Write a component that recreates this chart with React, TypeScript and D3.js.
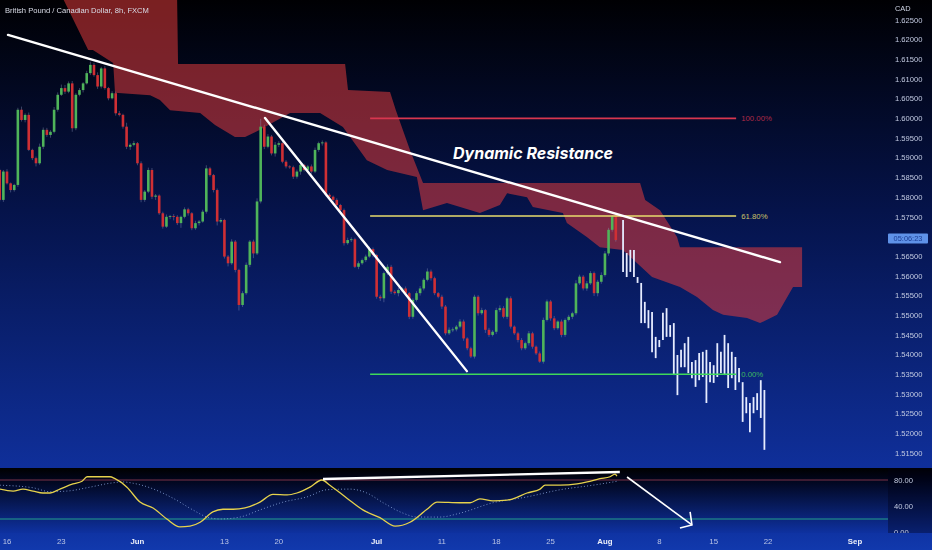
import React from 'react';
import * as d3 from 'd3';

const W = 932;
const H = 550;

// ---------- data ----------
const title = 'British Pound / Canadian Dollar, 8h, FXCM';
const currency = 'CAD';
const countdown = '05:06:23';

const firstOpen = 1.5869;
const closes = [
  1.5793, 1.5865, 1.5835, 1.5818, 1.5831, 1.6022, 1.5996, 1.6009, 1.5920, 1.5899,
  1.5886, 1.5928, 1.5971, 1.5958, 1.5966, 1.6022, 1.6060, 1.6077, 1.6068, 1.6089,
  1.5975, 1.6060, 1.6072, 1.6089, 1.6115, 1.6136, 1.6110, 1.6081, 1.6127, 1.6077,
  1.6051, 1.6064, 1.6013, 1.6009, 1.5979, 1.5928, 1.5933, 1.5937, 1.5886, 1.5793,
  1.5814, 1.5869, 1.5801, 1.5804, 1.5759, 1.5725, 1.5750, 1.5752, 1.5750, 1.5734,
  1.5750, 1.5769, 1.5759, 1.5721, 1.5734, 1.5738, 1.5763, 1.5873, 1.5856, 1.5818,
  1.5738, 1.5742, 1.5649, 1.5632, 1.5687, 1.5615, 1.5526, 1.5556, 1.5628, 1.5687,
  1.5657, 1.5789, 1.5979, 1.5928, 1.5954, 1.5911, 1.5933, 1.5937, 1.5890, 1.5878,
  1.5876, 1.5852, 1.5865,
  1.5882, 1.5869, 1.5878, 1.5865, 1.5920, 1.5937, 1.5939, 1.5806, 1.5801, 1.5793,
  1.5780, 1.5767, 1.5683, 1.5691, 1.5693, 1.5623, 1.5632, 1.5640, 1.5649, 1.5668,
  1.5653, 1.5547, 1.5543, 1.5607, 1.5623, 1.5560, 1.5556, 1.5564, 1.5568, 1.5556,
  1.5496, 1.5539, 1.5556, 1.5568, 1.5590, 1.5611, 1.5594, 1.5556, 1.5547, 1.5522,
  1.5454, 1.5463, 1.5464, 1.5471, 1.5484, 1.5441, 1.5416, 1.5395, 1.5547, 1.5505,
  1.5513, 1.5463, 1.5450, 1.5458, 1.5513, 1.5518, 1.5496, 1.5543, 1.5471, 1.5454,
  1.5437, 1.5416, 1.5429, 1.5454, 1.5420, 1.5403, 1.5382, 1.5488, 1.5535, 1.5492,
  1.5467, 1.5484, 1.5450, 1.5488, 1.5496, 1.5505, 1.5581, 1.5598, 1.5568, 1.5581,
  1.5607, 1.5556, 1.5585, 1.5602, 1.5657, 1.5717, 1.5751, 1.5691,
];
// wick lengths in pips above / below the body
const wickUpPips = [
  3, 4, 6, 2, 3, 5, 8, 4, 6, 3, 4, 8, 6, 5, 4, 7, 6, 9, 8, 5,
  6, 4, 5, 3, 6, 8, 5, 7, 4, 6, 3, 5, 4, 6, 3, 10, 4, 6, 3, 5,
  4, 6, 5, 4, 3, 4, 6, 3, 5, 4, 3, 5, 4, 3, 6, 4, 5, 8, 4, 3,
  4, 5, 3, 4, 6, 4, 3, 5, 6, 4, 5, 8, 20, 5, 6, 4, 7, 5, 6, 4,
  3, 4, 5, 4, 3, 4, 5, 6, 4, 5, 3, 4, 3, 4, 3, 4, 6, 5, 4, 5,
  4, 5, 6, 4, 3, 5, 4, 6, 5, 4, 6, 4, 5, 3, 4, 5, 6, 4, 8, 5,
  4, 3, 5, 4, 6, 5, 4, 6, 5, 3, 4, 5, 4, 6, 3, 5, 4, 6, 7, 5,
  4, 5, 3, 4, 5, 4, 6, 4, 3, 5, 6, 5, 4, 6, 3, 5, 4, 5, 4, 8,
  5, 4, 6, 5, 4, 5, 7, 6, 5, 4, 3,
];
const wickDownPips = [
  4, 5, 3, 6, 4, 5, 4, 6, 3, 5, 8, 4, 6, 5, 7, 4, 5, 3, 6, 4,
  9, 5, 4, 6, 3, 5, 4, 6, 5, 4, 5, 3, 6, 4, 5, 6, 8, 4, 5, 6,
  5, 4, 6, 8, 4, 5, 3, 6, 9, 5, 12, 4, 6, 5, 4, 6, 3, 5, 4, 6,
  10, 4, 5, 8, 4, 6, 14, 5, 4, 6, 12, 4, 5, 6, 4, 5, 8, 6, 4, 5,
  4, 6, 5, 8, 4, 5, 6, 4, 5, 6, 4, 5, 6, 4, 5, 6, 4, 5, 3, 6,
  4, 5, 3, 6, 5, 7, 10, 5, 6, 4, 8, 5, 4, 6, 5, 4, 6, 5, 4, 6,
  5, 4, 6, 5, 4, 6, 5, 4, 6, 5, 4, 5, 6, 4, 8, 5, 4, 6, 5, 4,
  6, 5, 4, 6, 5, 4, 6, 5, 4, 3, 5, 4, 6, 5, 4, 6, 5, 4, 6, 5,
  4, 5, 6, 4, 7, 8, 5, 4, 6, 5, 4,
];

// projected (hand drawn) bar pattern
const projStartBar = 172;
const projHigh = [
  1.5742, 1.5658, 1.5666, 1.5666, 1.5597, 1.5582, 1.5534, 1.5513, 1.5508, 1.5445,
  1.5437, 1.5506, 1.5518, 1.5475, 1.5480, 1.5399, 1.5412, 1.5429, 1.5445, 1.5381,
  1.5386, 1.5404, 1.5407, 1.5412, 1.5381, 1.5373, 1.5429, 1.5407, 1.5450, 1.5429,
  1.5407, 1.5394, 1.5366, 1.5330, 1.5292, 1.5277, 1.5292, 1.5302, 1.5335, 1.5310,
];
const projLow = [
  1.5610, 1.5597, 1.5610, 1.5597, 1.5582, 1.5480, 1.5480, 1.5467, 1.5406, 1.5391,
  1.5419, 1.5437, 1.5445, 1.5445, 1.5348, 1.5297, 1.5368, 1.5368, 1.5353, 1.5340,
  1.5318, 1.5335, 1.5343, 1.5277, 1.5330, 1.5328, 1.5343, 1.5353, 1.5348, 1.5315,
  1.5340, 1.5310, 1.5330, 1.5229, 1.5251, 1.5203, 1.5251, 1.5259, 1.5239, 1.5158,
];

// ichimoku cloud edges [bar, price]
const cloudUpper: [number, number][] = [
  [16.1, 1.633], [48.9, 1.633], [49.2, 1.6138], [95.3, 1.6138], [96.1, 1.6072],
  [107.7, 1.6067], [109.3, 1.6021], [113.2, 1.5920], [116.8, 1.5836], [176.7, 1.5836],
  [178.1, 1.5793], [182.2, 1.5767], [186.9, 1.5699], [187.7, 1.5673], [221.4, 1.5673],
];
const cloudLower: [number, number][] = [
  [16.1, 1.633], [24.4, 1.6174], [25.7, 1.6174], [31.3, 1.6141], [31.8, 1.6065],
  [41.5, 1.6059], [44.2, 1.6047], [47.0, 1.6021], [55.3, 1.6014], [59.4, 1.5983],
  [64.9, 1.5953], [67.7, 1.5953], [71.8, 1.5971], [80.1, 1.6014], [88.4, 1.6014],
  [94.7, 1.5978], [101.3, 1.5894], [106.9, 1.5869], [115.1, 1.5851], [116.8, 1.5767],
  [123.4, 1.5785], [132.5, 1.5760], [138.0, 1.5780], [140.0, 1.5810], [145.5, 1.5800],
  [147.1, 1.5775], [155.4, 1.5760], [156.5, 1.5734], [162.0, 1.5699], [165.6, 1.5673],
  [171.9, 1.5666], [180.0, 1.5597], [187.7, 1.5572], [192.4, 1.5546], [196.8, 1.5513],
  [199.6, 1.5501], [206.2, 1.5493], [209.8, 1.5480], [214.5, 1.5501], [218.9, 1.5572],
  [221.4, 1.5572],
];

// fibonacci retracement
const fibPrices = [1.6000, 1.5752, 1.5350];
const fibLabels = ['100.00%', '61.80%', '0.00%'];
const fibBars = [102.2, 203.2];

// trend lines [bar, price]
const trendLong: [number, number][] = [[2.28, 1.6212], [215.3, 1.5635]];
const trendSteep: [number, number][] = [[73.2, 1.6001], [128.9, 1.5358]];
const annotation = 'Dynamic Resistance';

// stochastic RSI [bar, value]
const stochK: [number, number][] = [
  [0, 66], [3.7, 63], [6.4, 66], [9.2, 63], [11.9, 60], [13.9, 60], [16.6, 66], [20.2, 74],
  [22.7, 78], [24.1, 85], [27.7, 85], [30.4, 85], [31.8, 82], [35.1, 69], [38.7, 46], [42.3, 37],
  [46.1, 20], [49.7, 8], [52.5, 9], [55.3, 15], [58.8, 31], [61.6, 35], [64.4, 35], [67.7, 37],
  [71.8, 46], [75.4, 58], [79.3, 57], [82.0, 60], [85.6, 69], [88.9, 80], [91.1, 72], [95.8, 52],
  [100.2, 34], [104.9, 22], [109.1, 9], [113.2, 15], [117.9, 35], [120.7, 46], [127.0, 45],
  [129.8, 45], [132.5, 51], [136.1, 48], [140.0, 49], [141.6, 51], [145.5, 60], [149.1, 66],
  [150.5, 72], [154.6, 72], [159.3, 74], [162.1, 77], [165.6, 82], [168.4, 85], [169.8, 89],
  [170.3, 86],
];
const stochD: [number, number][] = [
  [0, 72], [9.2, 68], [13.9, 62], [18.6, 63], [24.9, 69], [30.4, 75], [34.0, 77], [36.8, 75],
  [41.5, 68], [47.8, 52], [53.3, 34], [57.2, 23], [60.8, 20], [66.3, 23], [71.8, 34], [78.2, 46],
  [84.8, 54], [90.3, 65], [96.6, 66], [101.3, 60], [105.8, 45], [111.3, 29], [115.1, 23],
  [121.5, 23], [127.0, 29], [136.1, 45], [145.5, 54], [154.6, 65], [163.7, 72], [170.3, 78],
];
const oscUpper = 80;
const oscLower = 20;
const oscTrend: [number, number][] = [[89.2, 81.5], [171.1, 92.3]];
const oscArrow: [number, number][] = [[173.1, 84.6], [191.0, 10.8]];
const oscArrowHead: [number, number][] = [[187.7, 6.2], [191.0, 10.8], [190.5, 30.8]];

// axes
const priceTicks = d3.range(0, 23).map((i) => +(1.515 + i * 0.005).toFixed(3));
const oscTicks = [0, 40, 80];
const timeTickLabels = ['16', '23', 'Jun', '13', '20', 'Jul', '11', '18', '25', 'Aug', '8', '15', '22', 'Sep'];
const timeTickBars = [2, 17, 38, 62, 77, 104, 122, 137, 152, 167, 182, 197, 212, 236];

// ---------- layout ----------
const priceBottom = 467;
const oscTop = 468;
const oscBottom = 533;
const axisX = 885;

const x = d3.scaleLinear().domain([0, 236]).range([-0.25, 855]);
const yP = d3.scaleLinear().domain([1.515, 1.625]).range([453, 20]);
const yO = d3.scaleLinear().domain([0, 80]).range([532, 480]);

const FONT = '"Liberation Sans", Arial, sans-serif';

export default function App() {
  const lineP = d3.line<[number, number]>().x((d) => x(d[0])).y((d) => yP(d[1]));
  const lineO = d3.line<[number, number]>().x((d) => x(d[0])).y((d) => yO(d[1]));
  const smoothO = d3
    .line<[number, number]>()
    .x((d) => x(d[0]))
    .y((d) => yO(d[1]))
    .curve(d3.curveMonotoneX);

  const cloudPts = [...cloudUpper, ...cloudLower.slice().reverse()];
  const cloudPath = (lineP(cloudPts) || '') + 'Z';

  const candles = closes.map((c, i) => {
    const o = i === 0 ? firstOpen : closes[i - 1];
    const hi = Math.max(o, c) + wickUpPips[i] * 0.0001;
    const lo = Math.min(o, c) - wickDownPips[i] * 0.0001;
    return { i, o, c, hi, lo, up: c >= o };
  });

  const lastClose = closes[closes.length - 1];
  const fibColors = ['#d8364f', '#e8dc6c', '#3fd85a'];
  const fibTextColors = ['#b02a48', '#c9c26a', '#3fb862'];

  return (
    <svg
      width={W}
      height={H}
      style={{ position: 'fixed', left: 0, top: 0, display: 'block' }}
      fontFamily={FONT}
    >
      <defs>
        <linearGradient id="bgP" x1="0" y1="0" x2="0" y2="1">
          <stop offset="0" stopColor="#000003" />
          <stop offset="0.45" stopColor="#05134a" />
          <stop offset="1" stopColor="#0f2f9a" />
        </linearGradient>
        <linearGradient id="bgO" x1="0" y1="0" x2="0" y2="1">
          <stop offset="0" stopColor="#000000" />
          <stop offset="0.2" stopColor="#01061e" />
          <stop offset="1" stopColor="#0e31a0" />
        </linearGradient>
        <linearGradient id="bgX" x1="0" y1="0" x2="0" y2="1">
          <stop offset="0" stopColor="#0f33a3" />
          <stop offset="1" stopColor="#1139ad" />
        </linearGradient>
        <clipPath id="clipP">
          <rect x={0} y={0} width={axisX} height={priceBottom} />
        </clipPath>
        <clipPath id="clipO">
          <rect x={0} y={oscTop} width={888} height={oscBottom - oscTop} />
        </clipPath>
        <clipPath id="clipOA">
          <rect x={888} y={oscTop} width={W - 888} height={oscBottom - oscTop} />
        </clipPath>
      </defs>

      {/* backgrounds */}
      <rect x={0} y={0} width={W} height={priceBottom} fill="url(#bgP)" />
      <rect x={0} y={oscTop} width={W} height={oscBottom - oscTop} fill="url(#bgO)" />
      <rect x={0} y={oscBottom} width={W} height={H - oscBottom} fill="url(#bgX)" />
      <rect x={0} y={priceBottom} width={W} height={1} fill="#0f2f9a" />

      {/* ---- price panel ---- */}
      <g clipPath="url(#clipP)">
        <path d={cloudPath} fill="rgba(230,60,60,0.53)" />

        {candles.map((k) => (
          <line
            key={'w' + k.i}
            x1={x(k.i)}
            x2={x(k.i)}
            y1={yP(k.hi)}
            y2={yP(k.lo)}
            stroke="#8e9cc0"
            strokeOpacity={0.5}
            strokeWidth={0.8}
          />
        ))}
        {candles.map((k) => {
          const top = yP(Math.max(k.o, k.c));
          const bot = yP(Math.min(k.o, k.c));
          return (
            <rect
              key={'b' + k.i}
              x={x(k.i) - 1.3}
              y={top}
              width={2.6}
              height={Math.max(0.9, bot - top)}
              fill={k.up ? '#4fb45a' : '#cf2f34'}
            />
          );
        })}

        {projHigh.map((h, j) => (
          <line
            key={'p' + j}
            x1={x(projStartBar + j)}
            x2={x(projStartBar + j)}
            y1={yP(h)}
            y2={yP(projLow[j])}
            stroke="#e6ecff"
            strokeWidth={1.8}
          />
        ))}

        {fibPrices.map((p, j) => (
          <g key={'f' + j}>
            <line
              x1={x(fibBars[0])}
              x2={x(fibBars[1])}
              y1={yP(p)}
              y2={yP(p)}
              stroke={fibColors[j]}
              strokeWidth={1.6}
            />
            <text
              x={x(fibBars[1]) + 5}
              y={yP(p) + 2.8}
              fontSize={7.8}
              fill={fibTextColors[j]}
            >
              {fibLabels[j]}
            </text>
          </g>
        ))}

        <path d={lineP(trendLong) || ''} stroke="#ffffff" strokeWidth={2.4} fill="none" strokeLinecap="round" />
        <path d={lineP(trendSteep) || ''} stroke="#ffffff" strokeWidth={2.4} fill="none" strokeLinecap="round" />

        <text
          x={453}
          y={159}
          fontSize={16}
          fontWeight={700}
          fontStyle="italic"
          fontFamily="Inter, 'Open Sans', sans-serif"
          fill="#ffffff"
        >
          {annotation}
        </text>
      </g>

      {/* title */}
      <text x={5} y={13} fontSize={7.6} fill="#d9dde8">
        {title}
      </text>

      {/* price axis */}
      <text x={895} y={10.5} fontSize={7.4} fill="#d0d6e6">
        {currency}
      </text>
      {priceTicks
        .filter((t) => Math.abs(yP(t) - (yP(lastClose) - 1.5)) > 8)
        .map((t) => (
          <text key={'pt' + t} x={895} y={yP(t) + 2.7} fontSize={7.6} fill="#c3cbe2">
            {t.toFixed(5)}
          </text>
        ))}
      <rect x={888} y={yP(lastClose) - 6.5} width={40} height={10} fill="#5f92e8" rx={1} />
      <text
        x={908}
        y={yP(lastClose) + 1.2}
        fontSize={7.4}
        fill="#1b3d94"
        textAnchor="middle"
      >
        {countdown}
      </text>

      {/* ---- oscillator ---- */}
      <rect x={888} y={oscTop} width={W - 888} height={oscBottom - oscTop} fill="#000014" fillOpacity={0.35} />
      <g clipPath="url(#clipO)">
        <line x1={0} x2={888} y1={yO(oscUpper)} y2={yO(oscUpper)} stroke="#7a3348" strokeWidth={1} />
        <line x1={0} x2={888} y1={yO(oscLower)} y2={yO(oscLower)} stroke="#25a08a" strokeWidth={1.2} />
        <path
          d={smoothO(stochD) || ''}
          fill="none"
          stroke="#7f9ad0"
          strokeWidth={0.9}
          strokeDasharray="1 2.2"
        />
        <path d={smoothO(stochK) || ''} fill="none" stroke="#e6d24c" strokeWidth={1.3} />
        <path d={lineO(oscTrend) || ''} fill="none" stroke="#ffffff" strokeWidth={2.4} />
        <path d={lineO(oscArrow) || ''} fill="none" stroke="#ffffff" strokeWidth={1.6} />
        <path d={lineO(oscArrowHead) || ''} fill="none" stroke="#ffffff" strokeWidth={1.6} />
      </g>
      <g clipPath="url(#clipOA)">
        {oscTicks.map((t) => (
          <text key={'ot' + t} x={894} y={yO(t) + 2.7} fontSize={7.6} fill="#c3cbe2">
            {t.toFixed(2)}
          </text>
        ))}
      </g>

      {/* time axis */}
      {timeTickLabels.map((lab, j) => {
        const isMonth = /[A-Za-z]/.test(lab);
        return (
          <text
            key={'tt' + j}
            x={x(timeTickBars[j])}
            y={544}
            fontSize={7.8}
            textAnchor="middle"
            fontWeight={isMonth ? 700 : 400}
            fill={isMonth ? '#eef1fa' : '#b9c4e6'}
          >
            {lab}
          </text>
        );
      })}
    </svg>
  );
}
